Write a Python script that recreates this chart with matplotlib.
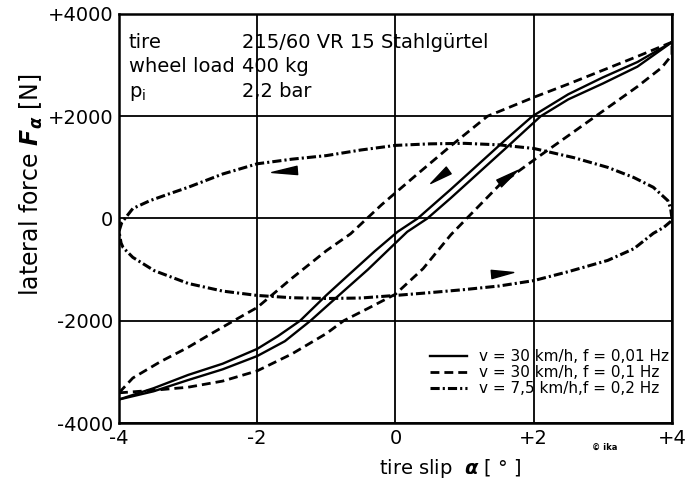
import matplotlib
matplotlib.use("Agg")
import matplotlib.pyplot as plt
from matplotlib.lines import Line2D

plt.rcParams['font.family'] = ['DejaVu Sans']

# v = 30 km/h, f = 0.01 Hz  (slip increasing / decreasing)
solid_inc_a = [-4.0, -3.5, -3.0, -2.5, -2.0, -1.6, -1.23, -0.8, -0.4, 0.0, 0.17, 0.46,
               0.8, 1.2, 1.6, 2.1, 2.5, 3.0, 3.5, 4.0]
solid_inc_F = [-3540, -3380, -3160, -2950, -2690, -2400, -2000, -1480, -1000, -480, -260, 0,
               400, 890, 1380, 2000, 2330, 2640, 2970, 3450]
solid_dec_a = [4.0, 3.5, 3.0, 2.5, 1.98, 1.6, 1.2, 0.8, 0.32, 0.03, -0.3, -0.7, -1.0,
               -1.38, -1.7, -2.0, -2.5, -3.0, -3.5, -4.0]
solid_dec_F = [3450, 3060, 2760, 2430, 2000, 1550, 1060, 570, 0, -260, -640, -1130, -1500,
               -2000, -2300, -2550, -2840, -3060, -3320, -3540]

# v = 30 km/h, f = 0.1 Hz
dash_inc_a = [-4.0, -3.5, -3.0, -2.5, -2.0, -1.5, -1.0, -0.75, -0.4, 0.0, 0.4, 0.8, 1.03,
              1.5, 2.05, 2.5, 3.0, 3.5, 3.85, 4.0, 4.0]
dash_inc_F = [-3410, -3360, -3300, -3180, -2980, -2650, -2250, -2000, -1760, -1480, -980,
              -320, 0, 650, 1190, 1620, 2100, 2580, 2950, 3200, 3450]
dash_dec_a = [4.0, 3.5, 3.0, 2.5, 2.0, 1.33, 0.8, 0.3, -0.2, -0.65, -1.0, -1.5, -2.0,
              -2.34, -2.7, -3.0, -3.4, -3.8, -4.0]
dash_dec_F = [3450, 3170, 2900, 2630, 2370, 2000, 1420, 850, 270, -300, -630, -1170, -1740,
              -2000, -2280, -2520, -2800, -3120, -3410]

# v = 7.5 km/h, f = 0.2 Hz
dd_dec_a = [4.0, 3.98, 3.94, 3.73, 3.45, 3.07, 2.58, 2.0, 1.5, 1.0, 0.5, 0.0, -0.5, -1.0,
            -1.5, -2.0, -2.5, -3.0, -3.3, -3.55, -3.8, -3.96, -4.0]
dd_dec_F = [0, 200, 350, 610, 800, 1000, 1190, 1370, 1440, 1470, 1460, 1430, 1340, 1230,
            1160, 1070, 870, 610, 470, 350, 195, -80, -250]
dd_inc_a = [-3.97, -3.94, -3.8, -3.49, -3.0, -2.5, -2.0, -1.5, -1.0, -0.5, 0.0, 0.5, 1.0,
            1.5, 2.0, 2.5, 3.07, 3.45, 3.73, 3.88, 3.98, 4.0]
dd_inc_F = [-480, -570, -760, -1020, -1270, -1420, -1505, -1550, -1565, -1555, -1505, -1450,
            -1390, -1320, -1215, -1040, -820, -590, -290, -175, -60, 0]

# direction arrows: (tip, tail) in (alpha, F)
arrows = [((-1.79, 900), (-1.42, 940)),
          ((0.51, 685), (0.77, 940)),
          ((1.77, 940), (1.50, 685)),
          ((1.71, -1056), (1.39, -1095))]

legend_labels = ['v = 30 km/h, f = 0,01 Hz',
                 'v = 30 km/h, f = 0,1 Hz',
                 'v = 7,5 km/h,f = 0,2 Hz']

x_ticks = [-4, -2, 0, 2, 4]
x_ticklabels = ['-4', '-2', '0', '+2', '+4']
y_ticks = [-4000, -2000, 0, 2000, 4000]
y_ticklabels = ['-4000', '-2000', '0', '+2000', '+4000']

info_keys = ['tire', 'wheel load', r'p$_\mathrm{i}$']
info_vals = ['215/60 VR 15 Stahlgürtel', '400 kg', '2,2 bar']

fig = plt.figure(figsize=(6.85, 4.79), dpi=100)
ax = fig.add_axes([0.1737, 0.1169, 0.8073, 0.8539])

solid_style = dict(color='k', lw=1.7, ls='-')
dash_style = dict(color='k', lw=2.0, ls=(0, (3.2, 1.8)))
dd_style = dict(color='k', lw=2.2, ls=(0, (3.0, 1.0, 0.7, 1.0)))

ax.plot(solid_inc_a, solid_inc_F, **solid_style)
ax.plot(solid_dec_a, solid_dec_F, **solid_style)
ax.plot(dash_inc_a, dash_inc_F, **dash_style)
ax.plot(dash_dec_a, dash_dec_F, **dash_style)
ax.plot(dd_dec_a + dd_inc_a, dd_dec_F + dd_inc_F, **dd_style)

for tip, tail in arrows:
    ax.annotate('', xy=tip, xytext=tail,
                arrowprops=dict(arrowstyle='wedge,tail_width=0.6', color='k',
                                shrinkA=0, shrinkB=0, mutation_scale=10))

ax.set_xlim(-4, 4)
ax.set_ylim(-4000, 4000)
ax.set_xticks(x_ticks)
ax.set_xticklabels(x_ticklabels)
ax.set_yticks(y_ticks)
ax.set_yticklabels(y_ticklabels)
ax.tick_params(length=0, labelsize=14, pad=4)
ax.grid(True, color='k', lw=1.3)
for sp in ax.spines.values():
    sp.set_linewidth(1.8)

for i, (k, v) in enumerate(zip(info_keys, info_vals)):
    y = 0.917 - 0.06 * i
    ax.text(0.018, y, k, transform=ax.transAxes, fontsize=14, va='baseline',
            bbox=dict(facecolor='white', edgecolor='none', pad=0))
    ax.text(0.222, y, v, transform=ax.transAxes, fontsize=14, va='baseline')

handles = [Line2D([], [], **solid_style),
           Line2D([], [], **dash_style),
           Line2D([], [], **dd_style)]
ax.legend(handles, legend_labels, loc='lower right', bbox_to_anchor=(0.995, 0.065),
          frameon=False, fontsize=11, handlelength=2.4, handletextpad=0.8,
          labelspacing=0.08, borderpad=0, borderaxespad=0)

fig.text(0.046, 0.614, r'lateral force $\boldsymbol{F}_{\boldsymbol{\alpha}}$ [N]',
         rotation=90, fontsize=17, ha='center', va='center')
fig.text(0.657, 0.01, r'tire slip  $\boldsymbol{\alpha}$ [ ° ]', fontsize=14,
         ha='center', va='baseline')
fig.text(0.883, 0.067, '© ika', fontsize=6, fontweight='bold', ha='center', va='center')

fig.savefig('out.png', dpi=100)
